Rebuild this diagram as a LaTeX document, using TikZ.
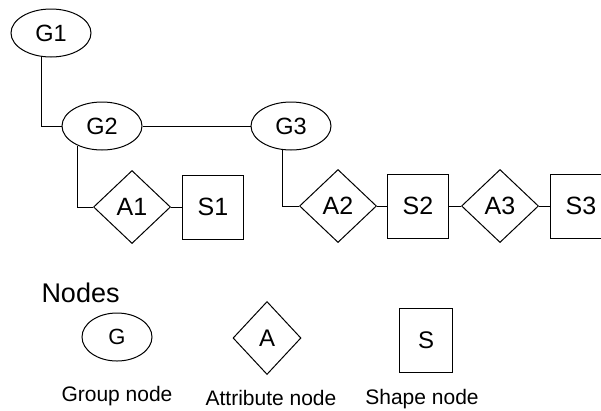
\documentclass[tikz,border=0pt]{standalone}
\usepackage{fontspec}
\setmainfont{Liberation Sans}
\usetikzlibrary{shapes.geometric}
\tikzset{
  grp/.style={draw, ellipse, inner sep=0pt, minimum width=80pt, minimum height=48pt, font=\fontsize{23.5}{25}\selectfont},
  attr/.style={draw, diamond, inner sep=0pt, minimum width=77pt, minimum height=73pt, font=\fontsize{25}{27}\selectfont},
  shp/.style={draw, rectangle, inner sep=0pt, minimum width=61pt, minimum height=64pt, font=\fontsize{25}{27}\selectfont},
  conn/.style={draw, line width=1pt},
  lbl/.style={anchor=base, inner sep=0pt, font=\fontsize{21}{23}\selectfont},
}
\begin{document}
\begin{tikzpicture}[x=1pt, y=-1pt, line width=1pt]
\useasboundingbox (0,0) rectangle (601,410);
\clip (0,0) rectangle (601,410);
\fill[white] (0,0) rectangle (601,410);
% main diagram
\node[grp] (G1) at (51,33) {G1};
\node[grp] (G2) at (102,126) {G2};
\node[grp] (G3) at (291,126) {G3};
\node[attr] (A1) at (132,207) {A1};
\node[shp] (S1) at (213,207) {S1};
\node[attr] (A2) at (338,206) {A2};
\node[shp] (S2) at (418,206) {S2};
\node[attr] (A3) at (500,206) {A3};
\node[shp] (S3) at (581,206) {S3};
\draw[conn] (G1.249) |- (G2.west);
\draw[conn] (G2.east) -- (G3.west);
\draw[conn] (G2.219) |- (A1.west);
\draw[conn] (G3.251) |- (A2.west);
\draw[conn] (A1.east) -- (S1.west);
\draw[conn] (A2.east) -- (S2.west);
\draw[conn] (S2.east) -- (A3.west);
\draw[conn] (A3.east) -- (S3.west);
% legend
\node[anchor=base west, inner sep=0pt, font=\fontsize{27}{29}\selectfont] (title) at (41,302) {Nodes};
\node[grp, minimum width=70pt, minimum height=48pt, font=\fontsize{22}{24}\selectfont] (LG) at (117,337) {G};
\node[attr, minimum width=68pt, minimum height=73pt, font=\fontsize{24}{26}\selectfont] (LA) at (267,338) {A};
\node[shp, minimum width=53pt, minimum height=64pt, font=\fontsize{24}{26}\selectfont] (LS) at (426,340) {S};
\node[lbl] (LGt) at (117,401) {Group node};
\node[lbl] (LAt) at (271,405) {Attribute node};
\node[lbl] (LSt) at (422,404) {Shape node};
\end{tikzpicture}
\end{document}
